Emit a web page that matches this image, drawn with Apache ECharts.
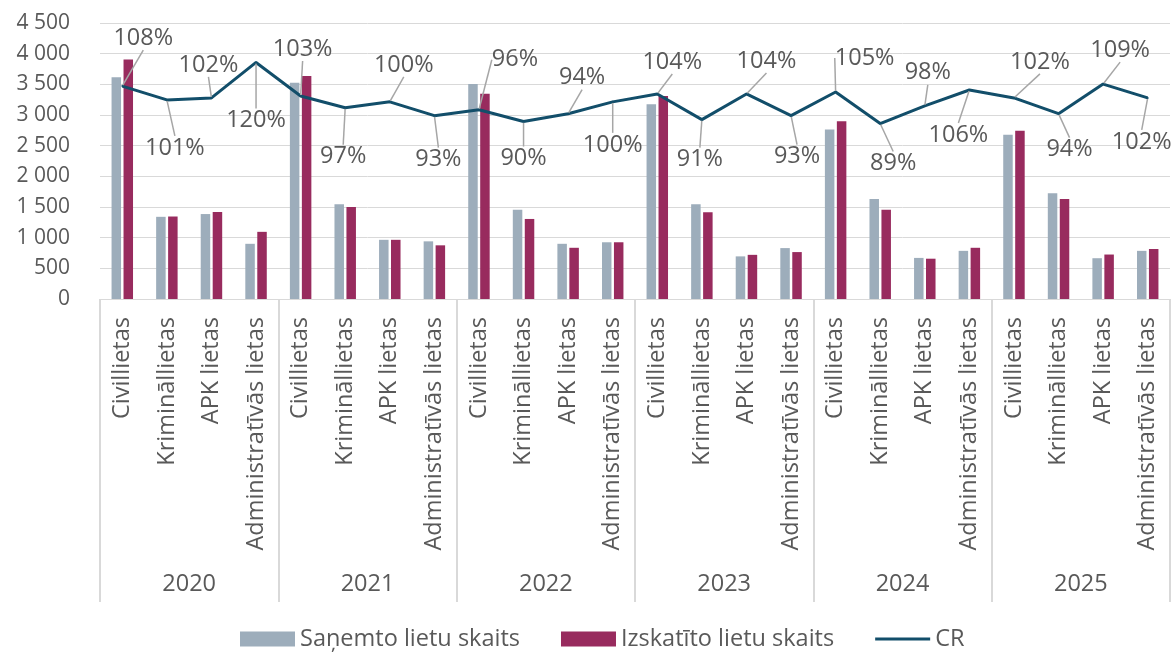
<!DOCTYPE html>
<html>
<head>
<meta charset="utf-8">
<script src="https://cdn.jsdelivr.net/npm/echarts@6/dist/echarts.min.js"></script>
<style>
  html, body { margin: 0; padding: 0; background: #fff; }
  #chart { width: 1174px; height: 653px; }
</style>
</head>
<body>
<div id="chart"></div>
<script>
const years = ['2020', '2021', '2022', '2023', '2024', '2025'];
const caseTypes = ['Civillietas', 'Krimināllietas', 'APK lietas', 'Administratīvās lietas'];
const yTicks = [0, 500, 1000, 1500, 2000, 2500, 3000, 3500, 4000, 4500];

// Saņemto lietu skaits
const received = [3615, 1340, 1385, 900, 3525, 1545, 965, 940, 3505, 1455, 900, 925,
                  3175, 1545, 695, 830, 2765, 1630, 670, 785, 2680, 1725, 665, 785];
// Izskatīto lietu skaits
const resolved = [3905, 1345, 1420, 1095, 3635, 1500, 965, 875, 3345, 1305, 835, 925,
                  3310, 1415, 720, 765, 2900, 1455, 657, 835, 2745, 1630, 725, 815];
// CR, %
const cr = [108, 101, 102, 120, 103, 97, 100, 93, 96, 90, 94, 100,
            104, 91, 104, 93, 105, 89, 98, 106, 102, 94, 109, 102];

// label placement (px offset from point), Excel style leader labels
const labelOffsets = [[21,-48],[8,48],[-3,-33],[0,58],[2,-47],[-2,49],[14,-37],[4,44],
                      [36,-50],[0,37],[14,-36],[0,43],[15,-32],[-2,40],[20,-33],[6,41],
                      [29,-34],[13,40],[3,-33],[-11,45],[26,-36],[11,36],[17,-34],[-6,44]];

const categories = years.flatMap(() => caseTypes);
const FONT = '"Open Sans", "Liberation Sans", sans-serif';
const TXT = '#595959';
const GRID = '#D9D9D9';

const fmtThousands = v => v >= 1000 ? Math.floor(v / 1000) + '\u00a0' + String(v % 1000).padStart(3, '0') : String(v);

const chart = echarts.init(document.getElementById('chart'), null, { renderer: 'canvas' });

chart.setOption({
  animation: false,
  textStyle: { fontFamily: FONT, color: TXT },
  grid: { left: 100, right: 4, top: 23, bottom: 354, containLabel: false },
  legend: {
    top: 627,
    left: 240,
    padding: 0,
    itemWidth: 55,
    itemHeight: 15,
    itemGap: 41,
    textStyle: { fontSize: 23.5, color: TXT, fontFamily: FONT },
    data: [
      { name: 'Saņemto lietu skaits', icon: 'rect' },
      { name: 'Izskatīto lietu skaits', icon: 'rect' },
      { name: 'CR', icon: 'path://M0,0 M55,15 M0,6 L55,6 L55,9 L0,9 Z' }
    ]
  },
  xAxis: [
    {
      type: 'category',
      data: categories,
      position: 'bottom',
      axisLine: { show: true, lineStyle: { color: GRID, width: 1 } },
      axisTick: { show: false },
      axisLabel: { interval: 0, rotate: 90, margin: 18, fontSize: 23.5, color: TXT, fontFamily: FONT }
    },
    {
      type: 'category',
      data: years,
      position: 'bottom',
      offset: 0,
      boundaryGap: true,
      axisLine: { show: false },
      axisTick: { show: true, length: 303, lineStyle: { color: GRID, width: 2 } },
      axisLabel: { margin: 273, fontSize: 23.5, color: TXT, fontFamily: FONT }
    }
  ],
  yAxis: [
    {
      type: 'value',
      min: yTicks[0],
      max: yTicks[yTicks.length - 1],
      interval: 500,
      axisLine: { show: false },
      axisTick: { show: false },
      splitLine: { lineStyle: { color: GRID, width: 1 } },
      axisLabel: { margin: 30, fontSize: 21, color: TXT, fontFamily: FONT, formatter: fmtThousands }
    },
    {
      type: 'value',
      min: 0,
      max: 140,
      show: false,
      splitLine: { show: false }
    }
  ],
  series: [
    {
      name: 'Saņemto lietu skaits',
      type: 'bar',
      data: received,
      barWidth: 9.5,
      barGap: '26%',
      itemStyle: { color: '#9DADBB' }
    },
    {
      name: 'Izskatīto lietu skaits',
      type: 'bar',
      data: resolved,
      barWidth: 9.5,
      itemStyle: { color: '#982B5E' }
    },
    {
      name: 'CR',
      type: 'line',
      yAxisIndex: 1,
      data: cr,
      symbol: 'circle',
      symbolSize: 2,
      showSymbol: true,
      lineStyle: { color: '#124E6A', width: 3 },
      itemStyle: { color: '#124E6A' },
      z: 5,
      label: {
        show: true,
        position: 'inside',
        formatter: p => p.value + '%',
        fontSize: 23.5,
        color: TXT,
        fontFamily: FONT
      },
      labelLine: { show: true, lineStyle: { color: '#A6A6A6', width: 1.5 } },
      labelLayout: p => ({ dx: labelOffsets[p.dataIndex][0], dy: labelOffsets[p.dataIndex][1] })
    }
  ]
});
</script>
</body>
</html>
